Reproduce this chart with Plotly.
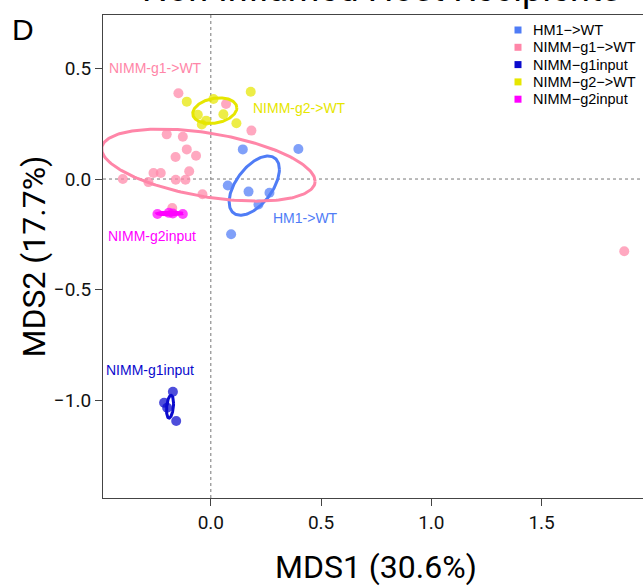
import numpy as np
import plotly.graph_objects as go

# ---------------- data ----------------
groups = ["HM1->WT", "NIMM-g1->WT", "NIMM-g1input", "NIMM-g2->WT", "NIMM-g2input"]
legend_text = ["HM1\u2212>WT", "NIMM\u2212g1\u2212>WT", "NIMM\u2212g1input", "NIMM\u2212g2\u2212>WT", "NIMM\u2212g2input"]
colors = ["#4F7CF6", "#FF86A8", "#0A0ACD", "#E6E600", "#FF00FF"]

hm1_x = [0.145, 0.397, 0.077, 0.171, 0.266, 0.216, 0.092]
hm1_y = [0.134, 0.136, -0.029, -0.057, -0.062, -0.115, -0.250]

g1wt_x = [-0.147, -0.200, -0.127, -0.109, -0.160, -0.067, -0.260, -0.227, -0.098,
          -0.399, -0.283, -0.159, -0.115, -0.038, -0.175, 0.069, 0.184, 1.875]
g1wt_y = [0.388, 0.202, 0.191, 0.134, 0.100, 0.105, 0.027, 0.027, 0.035,
          0.000, -0.014, -0.003, -0.003, -0.069, -0.131, 0.339, 0.219, -0.327]

g1in_x = [-0.172, -0.212, -0.198, -0.157]
g1in_y = [-0.962, -1.012, -1.035, -1.095]

g2wt_x = [-0.109, 0.012, -0.059, -0.021, -0.041, 0.181, 0.057, 0.116]
g2wt_y = [0.350, 0.362, 0.291, 0.264, 0.247, 0.395, 0.293, 0.252]

g2in_x = [-0.242, -0.190, -0.172, -0.127]
g2in_y = [-0.158, -0.153, -0.156, -0.158]

# ellipse estimates per group: centre x, centre y, half-width x, half-height y, correlation
ell_cx = [0.197, -0.011, -0.185, 0.018, -0.185]
ell_cy = [-0.030, 0.063, -1.030, 0.309, -0.156]
ell_hx = [0.114, 0.484, 0.016, 0.100, 0.058]
ell_hy = [0.134, 0.163, 0.052, 0.058, 0.006]
ell_rho = [0.55, -0.45, 0.30, 0.22, 0.0]

# group labels (text, x, y)
lab_text = ["HM1->WT", "NIMM-g1->WT", "NIMM-g1input", "NIMM-g2->WT", "NIMM-g2input"]
lab_x = [0.273, -0.470, -0.484, 0.183, -0.474]
lab_y = [-0.176, 0.502, -0.864, 0.321, -0.258]

x_ticks = [0.0, 0.5, 1.0, 1.5]
y_ticks = [-1.0, -0.5, 0.0, 0.5]

xs = [hm1_x, g1wt_x, g1in_x, g2wt_x, g2in_x]
ys = [hm1_y, g1wt_y, g1in_y, g2wt_y, g2in_y]

# ---------------- geometry ----------------
W, H = 643, 586
ML, MR, MT, MB = 103, 0, 15, 88
PW, PH = W - ML - MR, H - MT - MB


def px_to_paper_x(px):
    return (px - ML) / PW


def py_to_paper_y(py):
    return 1 - (py - MT) / PH


# ---------------- figure ----------------
fig = go.Figure()

for g, c, x, y in zip(groups, colors, xs, ys):
    fig.add_trace(go.Scatter(x=x, y=y, mode="markers", showlegend=False, name=g,
                             marker=dict(color=c, size=10, opacity=0.72, line=dict(width=0)),
                             hoverinfo="skip"))

t = np.linspace(0, 2 * np.pi, 200)
for i, c in enumerate(colors):
    S = np.array([[ell_hx[i] ** 2, ell_rho[i] * ell_hx[i] * ell_hy[i]],
                  [ell_rho[i] * ell_hx[i] * ell_hy[i], ell_hy[i] ** 2]])
    L = np.linalg.cholesky(S)
    pts = L @ np.vstack([np.cos(t), np.sin(t)])
    fig.add_trace(go.Scatter(x=ell_cx[i] + pts[0], y=ell_cy[i] + pts[1], mode="lines",
                             line=dict(color=c, width=3), showlegend=False, hoverinfo="skip"))

for txt, c, x, y in zip(lab_text, colors, lab_x, lab_y):
    fig.add_annotation(x=x, y=y, xref="x", yref="y", text=txt, showarrow=False,
                       xanchor="left", yanchor="middle",
                       font=dict(family="Liberation Sans", size=14, color=c))

# manual legend (square keys)
leg_key_px, leg_text_px, leg_top_py, leg_step, key_half = 518, 531, 30, 17.3, 3.5
for i, (txt, c) in enumerate(zip(legend_text, colors)):
    cy = leg_top_py + i * leg_step
    fig.add_shape(type="rect", xref="paper", yref="paper",
                  x0=px_to_paper_x(leg_key_px - key_half), x1=px_to_paper_x(leg_key_px + key_half),
                  y0=py_to_paper_y(cy + key_half), y1=py_to_paper_y(cy - key_half),
                  fillcolor=c, line=dict(width=0))
    fig.add_annotation(x=px_to_paper_x(leg_text_px), y=py_to_paper_y(cy), xref="paper", yref="paper",
                       text=txt, showarrow=False, xanchor="left", yanchor="middle",
                       font=dict(family="Liberation Sans", size=14.5, color="black"))

fig.add_shape(type="line", x0=0, x1=0, y0=0, y1=1, xref="x", yref="paper",
              line=dict(color="#777777", width=1, dash="dot"), layer="below")
fig.add_shape(type="line", x0=0, x1=1, y0=0, y1=0, xref="paper", yref="y",
              line=dict(color="#777777", width=1, dash="dot"), layer="below")

# panel letter, cut-off title, axis titles
fig.add_annotation(x=px_to_paper_x(10), y=py_to_paper_y(29), xref="paper", yref="paper", text="D",
                   showarrow=False, xanchor="left", yanchor="middle",
                   font=dict(family="Liberation Sans", size=30, color="black"))
fig.add_annotation(x=px_to_paper_x(381), y=1.0055, xref="paper", yref="paper",
                   text="Non-Inflamed Host Recipients", showarrow=False,
                   xanchor="center", yanchor="bottom",
                   font=dict(family="Roboto", size=36, color="black"))
fig.add_annotation(x=px_to_paper_x(376), y=py_to_paper_y(567), xref="paper", yref="paper",
                   text="MDS1 (30.6%)", showarrow=False, xanchor="center", yanchor="middle",
                   font=dict(family="Roboto", size=32, color="black"))
fig.add_annotation(x=px_to_paper_x(33), y=0.5, xref="paper", yref="paper", text="MDS2 (17.7%)",
                   showarrow=False, xanchor="center", yanchor="middle", textangle=-90,
                   font=dict(family="Roboto", size=32, color="black"))

axis_common = dict(showgrid=False, zeroline=False, showline=True, linecolor="#444444",
                   linewidth=1.2, ticks="outside", ticklen=7, tickcolor="#444444",
                   tickfont=dict(family="Roboto", size=19, color="#111111"))

fig.update_xaxes(range=[-0.489, 1.96], tickvals=x_ticks, tickformat=".1f",
                 mirror=True, **axis_common)
fig.update_yaxes(range=[-1.443, 0.742], tickvals=y_ticks, tickformat=".1f",
                 mirror=False, **axis_common)

fig.update_layout(
    width=W, height=H,
    margin=dict(l=ML, r=MR, t=MT, b=MB, autoexpand=False),
    plot_bgcolor="white", paper_bgcolor="white",
    showlegend=False,
)

fig.write_html("out.html", config={"displayModeBar": False},
               post_script="document.body.style.margin='0px';")
